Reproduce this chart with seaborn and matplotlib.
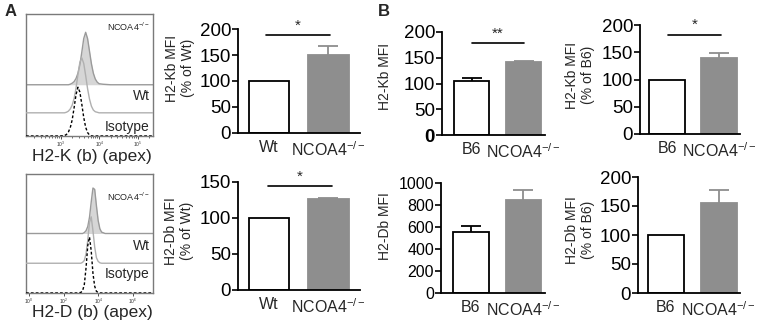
import numpy as np
import pandas as pd
import seaborn as sns
import matplotlib.pyplot as plt

# flow histograms: log10 intensity grid and % of mode for each sample
k_log = [2.10, 2.90, 3.00, 3.10, 3.15, 3.20, 3.25, 3.30, 3.35, 3.40, 3.45, 3.50,
         3.55, 3.60, 3.65, 3.70, 3.75, 3.80, 3.85, 3.90, 3.95, 4.00, 4.10, 4.30, 5.40]
k_iso = [0, 0, 0, 1, 3, 8, 17, 33, 58, 85, 100, 90,
         65, 38, 18, 7, 2, 0, 0, 0, 0, 0, 0, 0, 0]
k_wt = [0, 0, 0, 0, 1, 3, 7, 14, 26, 45, 70, 92,
        100, 90, 68, 44, 25, 12, 5, 2, 1, 0, 0, 0, 0]
k_ko = [0, 0, 0, 0, 0, 0, 1, 3, 6, 12, 22, 38,
        62, 88, 100, 88, 64, 40, 22, 11, 5, 2, 1, 0, 0]

d_log = [-0.17, 2.80, 3.00, 3.10, 3.20, 3.30, 3.40, 3.50, 3.60, 3.70, 3.80,
         3.90, 4.00, 4.10, 4.20, 4.40, 7.17]
d_iso = [0, 0, 1, 4, 15, 45, 85, 100, 75, 35, 12, 3, 1, 0, 0, 0, 0]
d_wt = [0, 0, 0, 2, 6, 20, 50, 88, 100, 70, 35, 12, 4, 1, 0, 0, 0]
d_ko = [0, 0, 0, 0, 2, 6, 15, 35, 68, 98, 95, 60, 28, 10, 3, 0, 0]

# bar charts: mean and SEM
ko = r"NCOA4$^{\mathrm{-/-}}$"
a_groups = ["Wt", ko]
b_groups = ["B6", ko]
kb_pct_wt = [100, 150]
kb_pct_wt_sem = [0, 17]
db_pct_wt = [100, 126]
db_pct_wt_sem = [0, 1.5]
kb_mfi = [104, 142]
kb_mfi_sem = [7, 2]
kb_pct_b6 = [100, 139]
kb_pct_b6_sem = [0, 9]
db_mfi = [555, 845]
db_mfi_sem = [50, 95]
db_pct_b6 = [100, 155]
db_pct_b6_sem = [0, 22]

sns.set_theme(style="white")
plt.rcParams["font.family"] = ["Liberation Sans", "DejaVu Sans"]
plt.rcParams["mathtext.fontset"] = "custom"
plt.rcParams["mathtext.rm"] = "Liberation Sans"
plt.rcParams["mathtext.it"] = "Liberation Sans:italic"

W, H = 772, 325
fig = plt.figure(figsize=(W / 100, H / 100), dpi=100)
GREY = "#8e8e8e"


def px_rect(l, t, r, b):
    return [l / W, (H - b) / H, (r - l) / W, (b - t) / H]


def histo(rect, logx, curves, offsets, heights, xlim, ticks, ticklabels,
          xlabel, label_pos):
    ax = fig.add_axes(px_rect(*rect))
    x = 10 ** np.array(logx)
    iso, wt, ko_c = [np.array(c) / 100 for c in curves]
    y_iso = offsets[0] + iso * heights[0]
    y_wt = offsets[1] + wt * heights[1]
    y_ko = offsets[2] + ko_c * heights[2]
    ax.fill_between(x, offsets[2], y_ko, color="#d6d6d6", lw=0, zorder=1)
    sns.lineplot(x=x, y=y_ko, ax=ax, color="#9a9a9a", lw=1.0, zorder=2, estimator=None)
    sns.lineplot(x=x, y=y_wt, ax=ax, color="#b0b0b0", lw=1.0, zorder=3, estimator=None)
    sns.lineplot(x=x, y=y_iso, ax=ax, color="black", lw=1.0, zorder=4,
                 estimator=None, linestyle=(0, (2, 1.5)))
    ax.set_xscale("log")
    ax.set_xlim(10 ** xlim[0], 10 ** xlim[1])
    ax.set_ylim(0, 1)
    ax.set_yticks([])
    ax.set_xticks([10 ** t for t in ticks])
    ax.set_xticklabels(ticklabels, fontsize=3.5)
    ax.tick_params(axis="x", which="major", length=2.5, width=0.6, pad=0.5,
                   bottom=True, direction="out", colors="#333333")
    ax.tick_params(axis="x", which="minor", length=1.5, width=0.5, bottom=True,
                   direction="out", colors="#333333")
    for s in ax.spines.values():
        s.set_color("#7a7a7a")
        s.set_linewidth(1.0)
    ax.set_xlabel("")
    ax.set_ylabel("")
    fig.text(92 / W, 1 - label_pos[0] / H, xlabel, ha="center", va="center",
             fontsize=12.5)
    r = rect[2] - 3
    fig.text(r / W, 1 - label_pos[1] / H, ko, ha="right", va="center", fontsize=6.5)
    fig.text(r / W, 1 - label_pos[2] / H, "Wt", ha="right", va="center", fontsize=10)
    fig.text(r / W, 1 - label_pos[3] / H, "Isotype", ha="right", va="center",
             fontsize=10)
    return ax


def bars(rect, groups, means, sems, ylim, ystep, xlim, ylabel, ylab_xy,
         sig=None, bold_zero=False, ysize=13.5):
    ax = fig.add_axes(px_rect(*rect))
    df = pd.DataFrame({"group": groups, "value": means})
    colors = ["black", GREY]
    for i, (m, s) in enumerate(zip(means, sems)):
        if s > 0:
            ax.errorbar(i, m, yerr=s, fmt="none", ecolor=colors[i], elinewidth=1.3,
                        capsize=7, capthick=1.3, zorder=1)
    sns.barplot(data=df, x="group", y="value", hue="group", palette=["white", GREY],
                width=0.68, errorbar=None, legend=False, ax=ax, zorder=2)
    for p, ec in zip(ax.patches, ["black", GREY]):
        p.set_edgecolor(ec)
        p.set_linewidth(1.3)
    ax.set_xlim(*xlim)
    ax.set_ylim(0, ylim)
    ax.set_yticks(np.arange(0, ylim + 1, ystep))
    ax.tick_params(axis="y", labelsize=ysize, length=4, width=1.2, pad=1,
                   left=True, direction="out", colors="black")
    ax.tick_params(axis="x", labelsize=11.5, length=0, pad=5)
    for lab in ax.get_yticklabels():
        lab.set_color("black")
    if bold_zero:
        ax.get_yticklabels()[0].set_fontweight("bold")
    sns.despine(ax=ax)
    for s in ("left", "bottom"):
        ax.spines[s].set_color("black")
        ax.spines[s].set_linewidth(1.3)
    ax.set_xlabel("")
    ax.set_ylabel("")
    fig.text(ylab_xy[0] / W, 1 - ylab_xy[1] / H, ylabel, rotation=90, ha="center",
             va="center", fontsize=10, linespacing=1.1, multialignment="center")
    if sig:
        x0, x1, y, star = sig
        ax.plot([x0, x1], [y, y], color="black", lw=1.2, clip_on=False)
        ax.text((x0 + x1) / 2, y + ylim * 0.025, star, ha="center", va="bottom",
                fontsize=11)
    return ax


histo((26, 14, 153, 136), k_log, [k_iso, k_wt, k_ko], [0, 0.19, 0.42],
      [0.40, 0.45, 0.43], (2.1, 5.4), [3, 4, 5],
      [r"$10^3$", r"$10^4$", r"$10^5$"], "H2-K (b) (apex)", (157, 27, 96, 127))
histo((26, 174, 153, 293), d_log, [d_iso, d_wt, d_ko], [0, 0.25, 0.50],
      [0.47, 0.39, 0.39], (-0.17, 7.17), [0, 2, 4, 6],
      [r"$10^0$", r"$10^2$", r"$10^4$", r"$10^6$"], "H2-D (b) (apex)",
      (313, 197, 246, 274))

bars((238, 29, 360, 133), a_groups, kb_pct_wt, kb_pct_wt_sem, 200, 50, (-0.52, 1.53),
     "H2-Kb MFI\n(% of Wt)", (180, 68), sig=(-0.05, 1.03, 188, "*"))
bars((238, 182, 360, 290), a_groups, db_pct_wt, db_pct_wt_sem, 150, 50, (-0.52, 1.53),
     "H2-Db MFI\n(% of Wt)", (179, 231), sig=(-0.02, 1.06, 144, "*"))
bars((442, 32, 545, 135), b_groups, kb_mfi, kb_mfi_sem, 200, 50, (-0.57, 1.41),
     "H2-Kb MFI", (385, 76), sig=(0.01, 1.0, 178, "**"), bold_zero=True)
bars((640, 25, 740, 134), b_groups, kb_pct_b6, kb_pct_b6_sem, 200, 50, (-0.52, 1.40),
     "H2-Kb MFI\n(% of B6)", (580, 75), sig=(0.02, 1.04, 182, "*"))
bars((441, 183, 545, 293), b_groups, db_mfi, db_mfi_sem, 1000, 200, (-0.57, 1.41),
     "H2-Db MFI", (385, 226), ysize=11.5)
bars((638, 177, 740, 293), b_groups, db_pct_b6, db_pct_b6_sem, 200, 50, (-0.52, 1.40),
     "H2-Db MFI\n(% of B6)", (580, 230))

fig.text(5 / W, 1 - 12 / H, "A", fontsize=12, fontweight="bold", va="center")
fig.text(378 / W, 1 - 12 / H, "B", fontsize=12, fontweight="bold", va="center")

fig.savefig("out.png", dpi=100)
